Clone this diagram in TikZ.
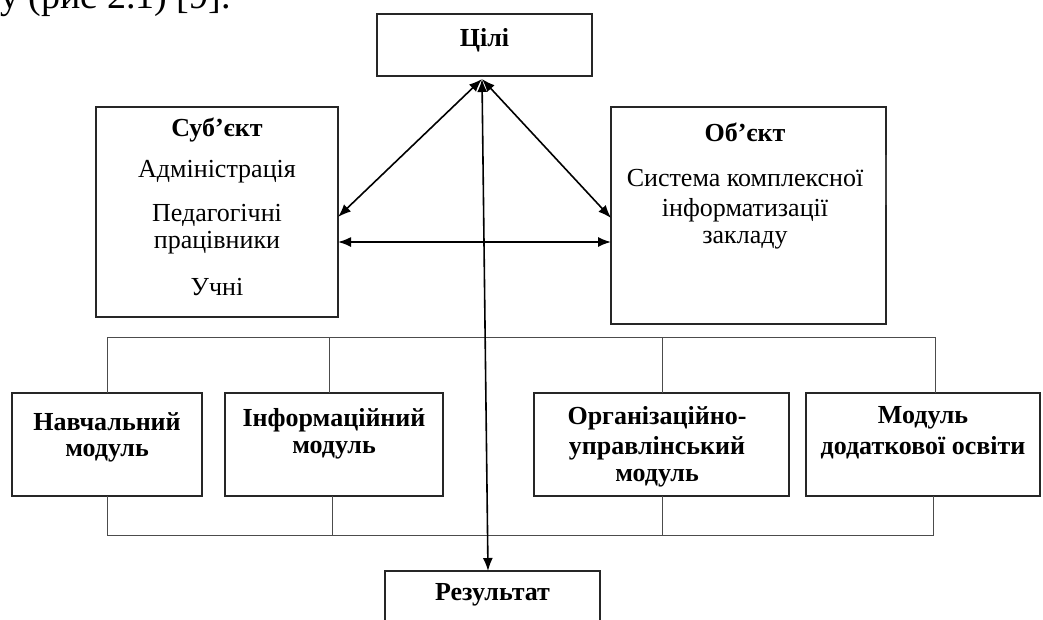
\documentclass[tikz,border=0pt]{standalone}
\usepackage{fontspec}
\setmainfont{Liberation Serif}
\usetikzlibrary{arrows.meta}
\begin{document}
\begin{tikzpicture}[x=1pt,y=-1pt,
  box/.style={draw=black!85, line width=1.1pt, inner sep=0pt, outer sep=0pt, fill=none},
  txt/.style={inner sep=0pt, font=\fontsize{26}{28}\selectfont},
  btxt/.style={inner sep=0pt, font=\fontsize{26}{28}\selectfont\bfseries},
  arr/.style={line width=1.6pt, {Latex[length=13pt,width=10pt]}-{Latex[length=13pt,width=10pt]}},
  bus/.style={line width=0.9pt, draw=black!70}]
\useasboundingbox (0,0) rectangle (1043,619);
\clip (0,0) rectangle (1043,619);

% cut-off line of text above the figure
\node[inner sep=0pt, anchor=base east, font=\fontsize{38}{40}\selectfont] (caption) at (231,8) {ду (рис 2.1) [9].};

% boxes
\node[box, minimum width=215pt, minimum height=62pt] (goals) at (484.5,45) {};
\node[box, minimum width=242pt, minimum height=210pt] (subj) at (217,212) {};
\node[box, minimum width=275pt, minimum height=217pt] (obj) at (748.5,215.5) {};
\node[box, minimum width=190pt, minimum height=103pt] (navch) at (107,444.5) {};
\node[box, minimum width=218pt, minimum height=103pt] (inform) at (334,444.5) {};
\node[box, minimum width=255pt, minimum height=103pt] (org) at (661.5,444.5) {};
\node[box, minimum width=234pt, minimum height=103pt] (dod) at (923,444.5) {};
\node[box, minimum width=215pt, minimum height=69pt] (res) at (492.5,605.5) {};

% texts
\node[btxt] (tgoals) at (484.5,40) {Цілі};
\node[btxt] (ts0) at (217,130) {Суб’єкт};
\node[txt] (ts1) at (217,172) {Адміністрація};
\node[txt] (ts2) at (217,215) {Педагогічні};
\node[txt] (ts3) at (217,243) {працівники};
\node[txt] (ts4) at (217,287) {Учні};
\node[btxt] (to0) at (745,132) {Об’єкт};
\node[txt] (to1) at (745,178) {Система комплексної};
\node[txt] (to2) at (745,210) {інформатизації};
\node[txt] (to3) at (745,240) {закладу};
\node[btxt] (tn1) at (107,422) {Навчальний};
\node[btxt] (tn2) at (107,453) {модуль};
\node[btxt] (ti1) at (334,420) {Інформаційний};
\node[btxt] (ti2) at (334,450) {модуль};
\node[btxt] (tg1) at (657,418) {Організаційно-};
\node[btxt] (tg2) at (657,448) {управлінський};
\node[btxt] (tg3) at (657,478) {модуль};
\node[btxt] (td1) at (923,418) {Модуль};
\node[btxt] (td2) at (923,448) {додаткової освіти};
\node[btxt] (tres) at (492.5,595) {Результат};

% small thick mark on the right side of the object box
\draw[line width=2.2pt, black!75] (obj.east |- 0,155) -- (obj.east |- 0,205);

% bus lines
\coordinate (b1) at (107,337);
\coordinate (b2) at (329,337);
\coordinate (b3) at (662,337);
\coordinate (b4) at (935,337);
\coordinate (c1) at (107,535);
\coordinate (c2) at (332,535);
\coordinate (c3) at (662,535);
\coordinate (c4) at (933,535);
\draw[bus] (navch.north -| b1) -- (b1) -- (b4) -- (dod.north -| b4);
\draw[bus] (inform.north -| b2) -- (b2);
\draw[bus] (org.north -| b3) -- (b3);
\draw[bus] (navch.south -| c1) -- (c1) -- (c4) -- (dod.south -| c4);
\draw[bus] (inform.south -| c2) -- (c2);
\draw[bus] (org.south -| c3) -- (c3);

% arrows
\coordinate (hub) at (482,79);
\draw[arr] (hub) -- (subj.east |- 0,217);
\draw[arr] (hub) -- (obj.west |- 0,218);
\draw[arr] (subj.east |- 0,242) -- (obj.west |- 0,242);
\draw[arr] (hub) -- (488,0 |- res.north);
\end{tikzpicture}
\end{document}
